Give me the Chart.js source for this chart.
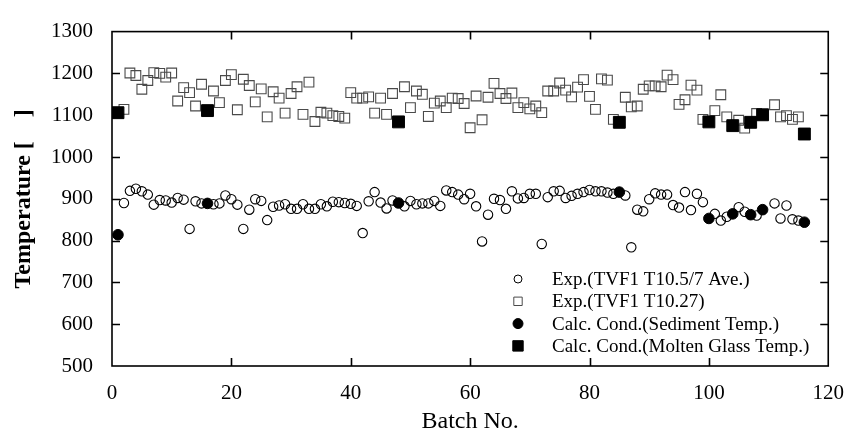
<!DOCTYPE html>
<html>
<head>
<meta charset="utf-8">
<script src="https://cdn.jsdelivr.net/npm/chart.js@4.4.1/dist/chart.umd.min.js"></script>
<style>
html,body{margin:0;padding:0;background:#fff;}
#wrap{position:relative;width:859px;height:443px;}
</style>
</head>
<body>
<div id="wrap"><canvas id="c"></canvas></div>
<script>
// ---- data ----
const expAveBatch = [2,3,4,5,6,7,8,9,10,11,12,13,14,15,17,18,19,20,21,22,23,24,25,26,27,28,29,30,31,32,33,34,35,36,37,38,39,40,41,42,43,44,45,46,47,49,50,51,52,53,54,55,56,57,58,59,60,61,62,63,64,65,66,67,68,69,70,71,72,73,74,75,76,77,78,79,80,81,82,83,84,86,87,88,89,90,91,92,93,94,95,96,97,98,99,101,102,103,105,106,108,111,112,113,114,115];
const expAveTemp  = [890,919,924,918,910,886,897,896,891,902,898,828,894,889,887,889,908,899,886,828,874,899,895,849,881,884,887,876,876,887,876,876,887,882,893,892,890,888,883,818,894,916,891,877,896,882,895,887,889,889,895,883,920,916,910,899,912,882,798,862,900,897,876,918,901,902,912,912,792,904,918,919,902,907,912,916,921,918,918,915,912,908,784,874,870,899,913,910,910,885,879,916,873,912,892,864,848,857,880,869,860,889,853,884,851,848];

const expT27Batch = [2,3,4,5,6,7,8,9,10,11,12,13,14,15,17,18,19,20,21,22,23,24,25,26,27,28,29,30,31,32,33,34,35,36,37,38,39,40,41,42,43,44,45,46,47,49,50,51,52,53,54,55,56,57,58,59,60,61,62,63,64,65,66,67,68,69,70,71,72,73,74,75,76,77,78,79,80,81,82,83,84,86,87,88,89,90,91,92,93,94,95,96,97,98,99,101,102,103,105,106,108,111,112,113,114,115];
const expT27Temp  = [1114,1201,1195,1162,1183,1202,1200,1191,1201,1134,1166,1154,1122,1174,1158,1130,1183,1197,1113,1186,1171,1132,1163,1096,1156,1141,1105,1152,1168,1102,1179,1085,1107,1105,1099,1097,1093,1154,1141,1141,1144,1105,1141,1102,1152,1168,1118,1158,1150,1097,1129,1134,1118,1141,1140,1128,1070,1146,1089,1143,1176,1152,1140,1153,1118,1130,1115,1122,1106,1158,1158,1177,1160,1144,1167,1185,1145,1114,1187,1184,1090,1143,1120,1122,1162,1170,1170,1168,1196,1185,1126,1137,1172,1160,1090,1111,1149,1096,1088,1069,1104,1125,1096,1099,1090,1096];

const calcBatch     = [1,16,48,85,100,104,107,109,116];
const calcSediment  = [814,889,890,916,853,864,862,874,844];
const calcGlass     = [1106,1111,1084,1083,1084,1075,1083,1101,1055];

const xTicks = [0,20,40,60,80,100,120];
const yTicks = [500,600,700,800,900,1000,1100,1200,1300];

const seriesNames = [
  'Exp.(TVF1 T10.5/7 Ave.)',
  'Exp.(TVF1 T10.27)',
  'Calc. Cond.(Sediment Temp.)',
  'Calc. Cond.(Molten Glass Temp.)'
];

function pts(xs, ys){ return xs.map((x,i)=>({x:x, y:ys[i]})); }

const FONT = "'Liberation Serif','Times New Roman',Times,serif";

// inward ticks + frame
const frameTicks = {
  id:'frameTicks',
  afterDatasetsDraw(chart){
    const {ctx, chartArea:a, scales:{x, y}} = chart;
    ctx.save();
    ctx.strokeStyle = '#000';
    ctx.lineWidth = 1.6;
    ctx.strokeRect(a.left, a.top, a.right - a.left, a.bottom - a.top);
    const L = 8;
    ctx.beginPath();
    yTicks.forEach(v=>{
      if (v === y.min || v === y.max) return;
      const p = Math.round(y.getPixelForValue(v)) + 0.5;
      ctx.moveTo(a.left, p); ctx.lineTo(a.left + L, p);
      ctx.moveTo(a.right, p); ctx.lineTo(a.right - L, p);
    });
    xTicks.forEach(v=>{
      if (v === x.min || v === x.max) return;
      const p = Math.round(x.getPixelForValue(v)) + 0.5;
      ctx.moveTo(p, a.bottom); ctx.lineTo(p, a.bottom - L);
      ctx.moveTo(p, a.top); ctx.lineTo(p, a.top + L);
    });
    ctx.stroke();
    ctx.restore();
  }
};

// legend inside plot
const innerLegend = {
  id:'innerLegend',
  afterDraw(chart){
    const {ctx, chartArea:a} = chart;
    const mx = a.left + 406, tx = a.left + 440, y0 = 279, dy = 22.3;
    ctx.save();
    ctx.font = "19px " + FONT;
    ctx.fillStyle = '#000';
    ctx.textBaseline = 'middle';
    ctx.textAlign = 'left';
    chart.data.datasets.forEach((ds, i)=>{
      const yy = y0 + i*dy;
      ctx.lineWidth = 1;
      ctx.strokeStyle = ds.borderColor;
      ctx.fillStyle = ds.backgroundColor;
      ctx.beginPath();
      if (ds.pointStyle === 'circle') {
        ctx.arc(mx, yy, i === 0 ? 4 : 5, 0, Math.PI*2);
      } else {
        const s = i === 1 ? 4.2 : 5.2;
        ctx.rect(mx - s, yy - s, 2*s, 2*s);
      }
      ctx.fill(); ctx.stroke();
      ctx.fillStyle = '#000';
      ctx.fillText(ds.label, tx, yy + 1);
    });
    ctx.restore();
  }
};

new Chart(document.getElementById('c'), {
  type:'scatter',
  data:{
    datasets:[
      {label:seriesNames[0], data:pts(expAveBatch, expAveTemp), pointStyle:'circle', pointRadius:4.7, pointBorderWidth:1.1, borderColor:'#000', backgroundColor:'rgba(255,255,255,0)', order:3},
      {label:seriesNames[1], data:pts(expT27Batch, expT27Temp), pointStyle:'rect', pointRadius:6.9, pointBorderWidth:1.1, borderColor:'#4a4a4a', backgroundColor:'rgba(255,255,255,0)', order:2},
      {label:seriesNames[2], data:pts(calcBatch, calcSediment), pointStyle:'circle', pointRadius:5.3, pointBorderWidth:1, borderColor:'#000', backgroundColor:'#000', order:1},
      {label:seriesNames[3], data:pts(calcBatch, calcGlass), pointStyle:'rect', pointRadius:8.4, pointBorderWidth:1, borderColor:'#000', backgroundColor:'#000', order:0}
    ]
  },
  options:{
    responsive:true,
    maintainAspectRatio:false,
    animation:false,
    events:[],
    layout:{padding:{top:16, right:24, left:0, bottom:0}},
    plugins:{legend:{display:false}, tooltip:{enabled:false}},
    scales:{
      x:{
        type:'linear', min:0, max:120,
        afterBuildTicks(s){ s.ticks = xTicks.map(v=>({value:v})); },
        afterFit(s){ s.height = 77; },
        grid:{display:false, drawTicks:false},
        border:{display:false},
        ticks:{color:'#000', font:{family:FONT, size:21}, padding:15, maxRotation:0, autoSkip:false, callback:(v)=>String(v)},
        title:{display:true, text:'Batch No.', color:'#000', font:{family:FONT, size:24}, padding:{top:0, bottom:7}}
      },
      y:{
        type:'linear', min:500, max:1300,
        afterBuildTicks(s){ s.ticks = yTicks.map(v=>({value:v})); },
        afterFit(s){ s.width = 112; },
        grid:{display:false, drawTicks:false},
        border:{display:false},
        ticks:{color:'#000', font:{family:FONT, size:21}, padding:19, autoSkip:false, callback:(v)=>String(v)},
        title:{display:true, text:'Temperature [    ]', color:'#000', font:{family:FONT, size:24, weight:'bold'}, padding:{top:9, bottom:0}}
      }
    }
  },
  plugins:[frameTicks, innerLegend]
});
</script>
</body>
</html>
